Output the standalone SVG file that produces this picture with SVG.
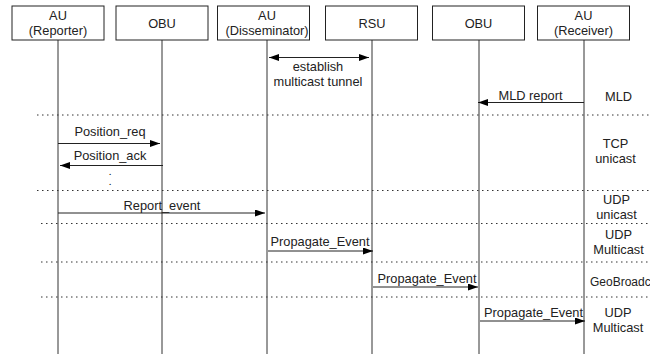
<svg xmlns="http://www.w3.org/2000/svg" width="650" height="356" viewBox="0 0 650 356">
<style>
text{font-family:"Liberation Sans",Arial,sans-serif;font-size:12.800px;fill:#222;text-anchor:middle}
.b{fill:#fff;stroke:#222;stroke-width:1}
.l{stroke:#333;stroke-width:1;fill:none}
.d{stroke:#333;stroke-width:1;stroke-dasharray:1.500 3.500;fill:none}
.m{stroke:#222;stroke-width:1;fill:none}
.dot{font-size:8px;font-weight:bold}
</style>
<defs>
<marker id="a" markerUnits="userSpaceOnUse" markerWidth="11" markerHeight="8" refX="10" refY="3.500" orient="auto-start-reverse"><path d="M0 0L10 3.500L0 7z" fill="#000"/></marker>
</defs>
<g id="lifelines">
<path class="l" d="M58 40V354M162 40V354M267 40V354M372 40V354M479 40V354M584 40V354"/>
</g>
<g id="separators">
<path class="d" d="M37 115H650M37 190.500H650M41 223.500H650M41 262H650M41 297H650"/>
</g>
<g id="connectors">
<path class="m" marker-start="url(#a)" marker-end="url(#a)" d="M269 57.500H369"/>
<path class="m" marker-end="url(#a)" d="M584 102.500H478"/>
<path class="m" marker-end="url(#a)" d="M58 143.500H160"/>
<path class="m" marker-end="url(#a)" d="M163 165.500H60"/>
<path class="m" marker-end="url(#a)" d="M58 213H265"/>
<path class="m" marker-end="url(#a)" d="M268 251H373"/>
<path class="m" marker-end="url(#a)" d="M373 287H478"/>
<path class="m" marker-end="url(#a)" d="M480 321H585"/>
</g>
<g id="au-reporter"><rect class="b" x="12" y="6" width="92" height="34"/><text x="58" y="20">AU</text><text x="58" y="35">(Reporter)</text></g>
<g id="obu-1"><rect class="b" x="116" y="6" width="92" height="34"/><text x="162" y="28">OBU</text></g>
<g id="au-disseminator"><rect class="b" x="217.500" y="6" width="92" height="34"/><text x="267" y="20">AU</text><text x="267" y="35">(Disseminator)</text></g>
<g id="rsu"><rect class="b" x="325.500" y="6" width="92" height="34"/><text x="372" y="28">RSU</text></g>
<g id="obu-2"><rect class="b" x="432.500" y="6" width="92" height="34"/><text x="478.500" y="28">OBU</text></g>
<g id="au-receiver"><rect class="b" x="537.500" y="6" width="92" height="34"/><text x="583.500" y="20">AU</text><text x="583.500" y="35">(Receiver)</text></g>
<g id="labels">
<text x="318" y="71">establish</text><text x="318" y="86">multicast tunnel</text>
<text x="530.500" y="100">MLD report</text>
<text x="110" y="136">Position_req</text>
<text x="110" y="160">Position_ack</text>
<text class="dot" x="110" y="175">.</text><text class="dot" x="110" y="184.500">.</text>
<text x="162" y="210">Report_event</text>
<text x="320" y="246">Propagate_Event</text>
<text x="427" y="283">Propagate_Event</text>
<text x="533.500" y="317">Propagate_Event</text>
<text x="618.500" y="100.500">MLD</text>
<text x="615.500" y="148">TCP</text><text x="615.500" y="163">unicast</text>
<text x="616.500" y="204">UDP</text><text x="616.500" y="219">unicast</text>
<text x="618.500" y="239">UDP</text><text x="618.500" y="254">Multicast</text>
<text x="590" y="286" style="text-anchor:start;font-size:12px">GeoBroadc</text>
<text x="618" y="317">UDP</text><text x="618" y="332">Multicast</text>
</g>
</svg>
